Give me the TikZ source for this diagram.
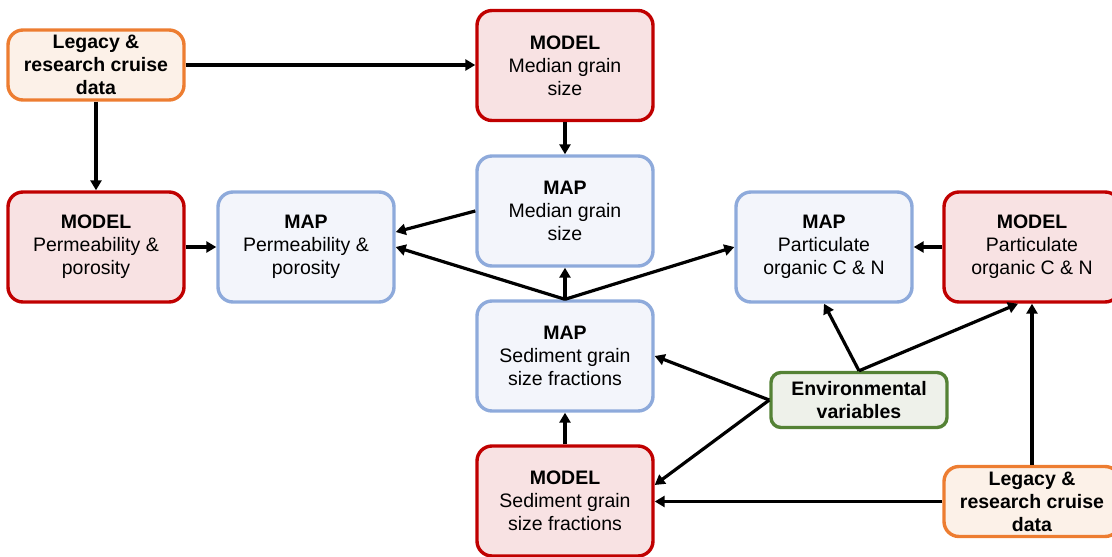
\documentclass[tikz,border=0pt]{standalone}
\usepackage{fontspec}
\setmainfont{Liberation Sans}
\usetikzlibrary{arrows.meta}
\definecolor{orB}{HTML}{ED7D31}
\definecolor{orF}{HTML}{FCF1E8}
\definecolor{rdB}{HTML}{C00000}
\definecolor{rdF}{HTML}{F8E2E3}
\definecolor{blB}{HTML}{8EAADB}
\definecolor{blF}{HTML}{F3F5FB}
\definecolor{grB}{HTML}{548235}
\definecolor{grF}{HTML}{EEF1EA}
\begin{document}
\begin{tikzpicture}[x=1pt,y=-1pt,
  box/.style={rounded corners=15pt,line width=3.4pt,align=center,inner sep=0pt,
    font=\fontsize{19.5}{23}\selectfont,minimum width=176pt,minimum height=110pt},
  legacy/.style={box,draw=orB,fill=orF,minimum height=70pt,font=\fontsize{19.5}{23}\selectfont\bfseries},
  model/.style={box,draw=rdB,fill=rdF},
  mapb/.style={box,draw=blB,fill=blF},
  envb/.style={box,draw=grB,fill=grF,minimum height=55pt,rounded corners=10pt,font=\fontsize{19.5}{23}\selectfont\bfseries},
  arr/.style={line width=3.2pt,-{Triangle[length=10pt,width=11pt]}}]
\clip (0,0) rectangle (1112,557);
\node[legacy] (leg1) at (96,65) {Legacy \&\\research cruise\\data};
\node[model] (modmed) at (565,65.5) {\textbf{MODEL}\\Median grain\\size};
\node[model] (modperm) at (96,247) {\textbf{MODEL}\\Permeability \&\\porosity};
\node[mapb] (mapperm) at (306,247) {\textbf{MAP}\\Permeability \&\\porosity};
\node[mapb] (mapmed) at (565,211) {\textbf{MAP}\\Median grain\\size};
\node[mapb] (mappart) at (824,247) {\textbf{MAP}\\Particulate\\organic C \& N};
\node[model] (modpart) at (1032,247) {\textbf{MODEL}\\Particulate\\organic C \& N};
\node[mapb] (mapsed) at (565,356) {\textbf{MAP}\\Sediment grain\\size fractions};
\node[envb] (env) at (859,400) {Environmental\\variables};
\node[model] (modsed) at (565,501) {\textbf{MODEL}\\Sediment grain\\size fractions};
\node[legacy] (leg2) at (1032,501.5) {Legacy \&\\research cruise\\data};
\draw[arr] (leg1.east) -- (leg1.east -| modmed.west);
\draw[arr] (leg1) -- (modperm);
\draw[arr] (modperm) -- (mapperm);
\draw[arr] (modmed) -- (mapmed);
\draw[arr] (mapmed.west) -- ([yshift=15pt]mapperm.east);
\draw[arr] (mapsed.north) -- (mapperm.east);
\draw[arr] (mapsed.north) -- (mapmed.south);
\draw[arr] (mapsed.north) -- (mappart.west);
\draw[arr] (modpart.west) -- (mappart.east);
\draw[arr] (env.north) -- (mappart.south);
\draw[arr] (env.north) -- ([xshift=-14pt]modpart.south);
\draw[arr] (env.west) -- (mapsed.east);
\draw[arr] (env.west) -- ([yshift=16pt]modsed.east);
\draw[arr] (leg2.west) -- (leg2.west -| modsed.east);
\draw[arr] (leg2.north) -- (leg2.north |- modpart.south);
\draw[arr] (modsed.north) -- (mapsed.south);
\end{tikzpicture}
\end{document}
